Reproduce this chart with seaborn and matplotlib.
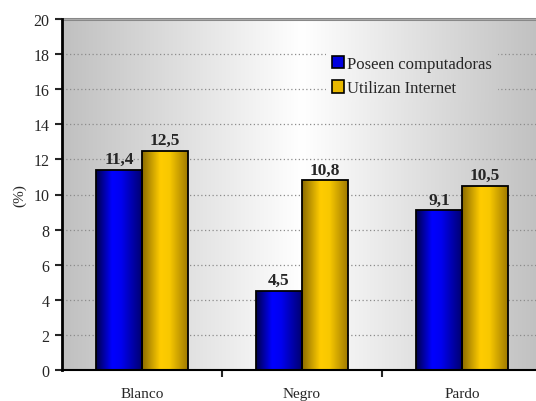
import numpy as np
import pandas as pd
import matplotlib
matplotlib.use("Agg")
import matplotlib.pyplot as plt
from matplotlib.colors import LinearSegmentedColormap
from matplotlib.patches import Rectangle
import seaborn as sns

categories = ["Blanco", "Negro", "Pardo"]
series = ["Poseen computadoras", "Utilizan Internet"]
computadoras = [11.4, 4.5, 9.1]
internet = [12.5, 10.8, 10.5]
yticks = [0, 2, 4, 6, 8, 10, 12, 14, 16, 18, 20]

df = pd.DataFrame({
    "cat": categories * 2,
    "serie": [series[0]] * 3 + [series[1]] * 3,
    "val": computadoras + internet,
})

sns.set_style("white")
plt.rcParams["font.family"] = ["Liberation Serif", "DejaVu Serif"]

fig = plt.figure(figsize=(5.36, 4.02), dpi=100)
W, H = 536, 402
ax = fig.add_axes([62 / W, (402 - 371) / H, 480 / W, 351 / H])

solid = {series[0]: "#0000e0", series[1]: "#f0c000"}
sns.barplot(data=df, x="cat", y="val", hue="serie", hue_order=series,
            order=categories, palette=solid, width=0.575, gap=0,
            edgecolor="black", linewidth=1.3, ax=ax, legend=False, zorder=3)

ax.set_xlim(-0.5, 2.5)
ax.set_ylim(0, 20)

# background gradient
bg_cmap = LinearSegmentedColormap.from_list("bg", ["#c0c0c0", "#ffffff", "#c0c0c0"])
grad = np.linspace(0, 1, 256).reshape(1, -1)
ax.imshow(grad, cmap=bg_cmap, extent=(-0.5, 2.5, 0, 20), aspect="auto",
          zorder=0, interpolation="bicubic")

# bar gradients
blue_cmap = LinearSegmentedColormap.from_list(
    "b", [(0, "#00004a"), (0.35, "#0000ff"), (0.55, "#0000f0"), (1, "#000070")])
gold_cmap = LinearSegmentedColormap.from_list(
    "g", [(0, "#8a6a00"), (0.4, "#ffcc00"), (0.6, "#f8c800"), (1, "#a07a00")])
n = len(categories)
for i, p in enumerate(ax.patches):
    cm = blue_cmap if i < n else gold_cmap
    x0, y0 = p.get_x(), p.get_y()
    w, h = p.get_width(), p.get_height()
    im = ax.imshow(grad, cmap=cm, extent=(x0, x0 + w, y0, y0 + h),
                   aspect="auto", zorder=2.5, interpolation="bicubic")
    im.set_clip_path(p)
    p.set_facecolor("none")
    p.set_zorder(3)

ax.set_xlim(-0.5, 2.5)
ax.set_ylim(0, 20)

# labels
for i, p in enumerate(ax.patches):
    v = p.get_height()
    ax.annotate(f"{v:.1f}".replace(".", ","),
                (p.get_x() + p.get_width() / 2, v),
                xytext=(0, 2), textcoords="offset points",
                ha="center", va="bottom", fontsize=12.5, fontweight="bold",
                zorder=5)

# grid
for y in yticks[1:-1]:
    ax.axhline(y, color="#8c8c8c", lw=0.9, ls=(0, (1, 2)), zorder=1)
ax.axhline(20, color="#888888", lw=2.2, zorder=1, clip_on=False)
ax.axhline(20, color="#b0b0b0", lw=0.6, zorder=1.1, clip_on=False)

for s in ["top", "right"]:
    ax.spines[s].set_visible(False)
ax.spines["left"].set_linewidth(2)
ax.spines["left"].set_color("black")
ax.spines["bottom"].set_linewidth(1.5)
ax.spines["bottom"].set_color("black")
ax.spines["left"].set_zorder(4)
ax.spines["bottom"].set_zorder(4)

ax.set_yticks(yticks)
ax.set_yticklabels([str(t) for t in yticks])
ax.tick_params(axis="y", direction="out", length=5, width=1.5, labelsize=11.5, pad=4, left=True)
ax.set_xticks(range(n))
ax.set_xticklabels(categories)
ax.set_xticks([0.5, 1.5], minor=True)
ax.tick_params(axis="x", which="major", length=0, labelsize=11, pad=12)
ax.tick_params(axis="x", which="minor", direction="out", length=5, width=1.5, bottom=True)
ax.set_xlabel("")
ax.set_ylabel("(%)", fontsize=11, labelpad=5)

handles = [Rectangle((0, 0), 1, 1, facecolor=solid[s] if i == 0 else "#e8b800",
                     edgecolor="black", linewidth=1.2) for i, s in enumerate(series)]
leg = ax.legend(handles, series, loc="upper left", bbox_to_anchor=(0.532, 0.935),
                fontsize=12, frameon=False, handlelength=0.75, handleheight=0.75,
                handletextpad=0.15, borderpad=0.35, labelspacing=0.5)
leg.set_zorder(6)

# background patch behind legend (hides gridlines, keeps gradient)
fig.canvas.draw()
bb = leg.get_window_extent().transformed(ax.transData.inverted())
bg_clip = Rectangle((bb.x0, bb.y0), bb.width, bb.height, transform=ax.transData,
                    facecolor="none", edgecolor="none")
ax.add_patch(bg_clip)
im2 = ax.imshow(grad, cmap=bg_cmap, extent=(-0.5, 2.5, 0, 20), aspect="auto",
                zorder=1.5, interpolation="bicubic")
im2.set_clip_path(bg_clip)
ax.set_xlim(-0.5, 2.5)
ax.set_ylim(0, 20)

fig.savefig("out.png", dpi=100)
